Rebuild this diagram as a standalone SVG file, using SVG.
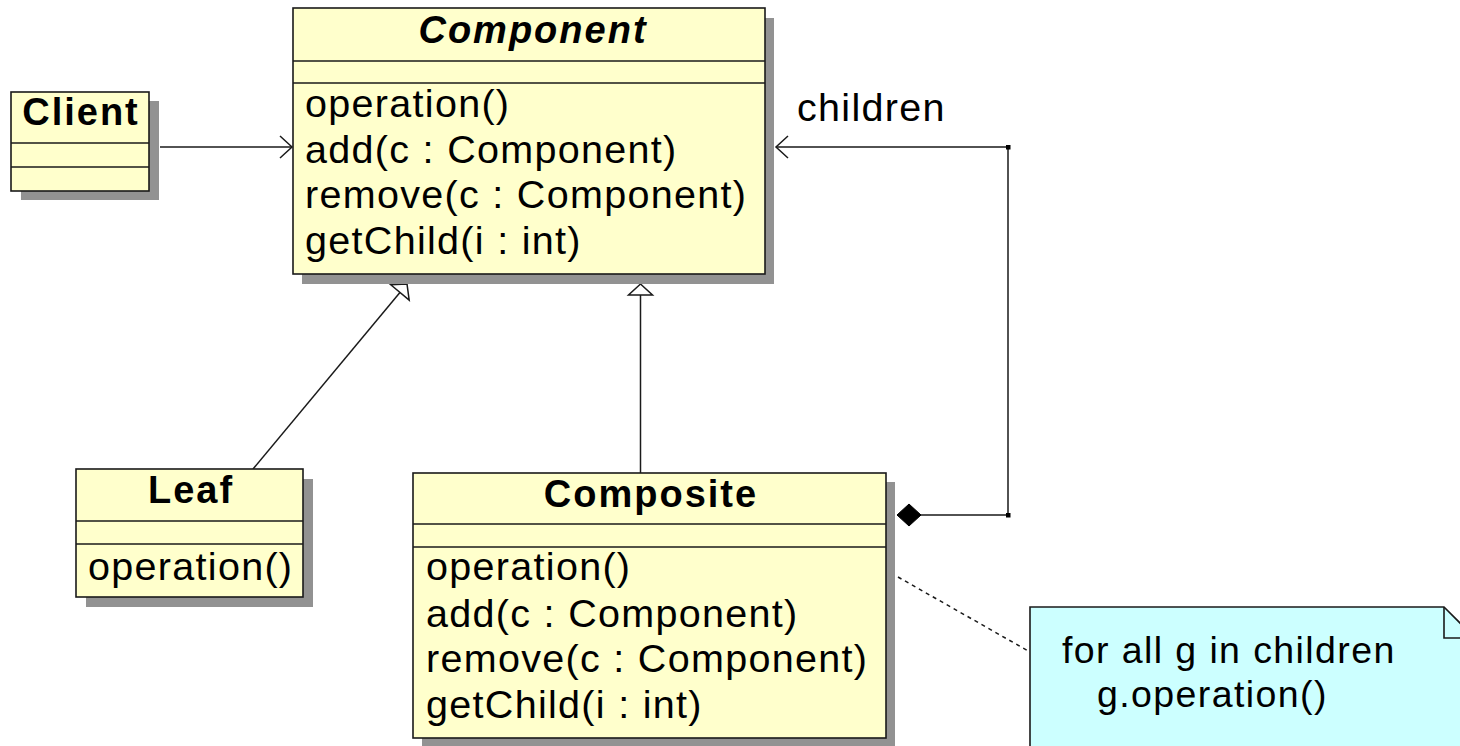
<svg xmlns="http://www.w3.org/2000/svg" width="1460" height="746" viewBox="0 0 1460 746">
<defs>
<style>
.box{fill:#ffffcc;stroke:#1a1a1a;stroke-width:1.6}
.shadow{fill:#929292}
.div{stroke:#1a1a1a;stroke-width:1.4}
.title{font-family:"Liberation Sans",Arial,sans-serif;font-weight:bold;font-size:38px;letter-spacing:2px;fill:#000;text-anchor:middle}
.ital{font-style:italic}
.op{font-family:"Liberation Sans",Arial,sans-serif;font-size:39.5px;letter-spacing:1.3px;fill:#000}
.nt{font-family:"Liberation Sans",Arial,sans-serif;font-size:37.5px;letter-spacing:1.4px;fill:#000}
.conn{fill:none;stroke:#1a1a1a;stroke-width:1.5}
.note{fill:#ccffff;stroke:#1a1a1a;stroke-width:1.6}
</style>
<marker id="open" markerUnits="userSpaceOnUse" viewBox="-14 -13 16 26" markerWidth="16" markerHeight="26" refX="0" refY="0" orient="auto" overflow="visible">
<path d="M-12,-11 L0,0 L-12,11" fill="none" stroke="#1a1a1a" stroke-width="1.5"/>
</marker>
<marker id="tri" markerUnits="userSpaceOnUse" viewBox="-13 -14 15 28" markerWidth="15" markerHeight="28" refX="0" refY="0" orient="auto" overflow="visible">
<path d="M0,0 L-11,-12 L-11,12 Z" fill="#fff" stroke="#1a1a1a" stroke-width="1.5"/>
</marker>
<marker id="diamond" markerUnits="userSpaceOnUse" viewBox="-2 -13 28 26" markerWidth="28" markerHeight="26" refX="0" refY="0" orient="auto" overflow="visible">
<path d="M0,0 L12,-11 L24,0 L12,11 Z" fill="#000" stroke="#000" stroke-width="1"/>
</marker>
</defs>
<rect width="1460" height="746" fill="#fff"/>

<g id="connectors">
<line class="conn" x1="160" y1="147" x2="292" y2="147" marker-end="url(#open)"/>
<line class="conn" x1="253" y1="469" x2="407" y2="284" marker-end="url(#tri)"/>
<line class="conn" x1="640.5" y1="473" x2="640.5" y2="284" marker-end="url(#tri)"/>
<polyline class="conn" points="897,515 1008,515 1008,147 776,147" marker-start="url(#diamond)" marker-end="url(#open)"/>
<rect x="1006" y="513" width="4.5" height="4.5" fill="#000"/>
<rect x="1006" y="145" width="4.5" height="4.5" fill="#000"/>
<text class="op" x="797" y="121">children</text>
<line class="conn" x1="898" y1="577" x2="1030" y2="652" stroke-width="1.2" stroke-dasharray="4,4"/>
</g>

<g id="client">
<rect class="shadow" x="21" y="101" width="138" height="99"/>
<rect class="box" x="11" y="92" width="138" height="99"/>
<line class="div" x1="11" y1="143" x2="149" y2="143"/>
<line class="div" x1="11" y1="167" x2="149" y2="167"/>
<text class="title" x="81" y="125">Client</text>
</g>

<g id="component">
<rect class="shadow" x="302" y="18" width="472" height="266"/>
<rect class="box" x="293" y="8" width="472" height="266"/>
<line class="div" x1="293" y1="61" x2="765" y2="61"/>
<line class="div" x1="293" y1="83" x2="765" y2="83"/>
<text class="title ital" x="533" y="43">Component</text>
<text class="op" x="305" y="117">operation()</text>
<text class="op" x="305" y="162.5">add(c : Component)</text>
<text class="op" x="305" y="208">remove(c : Component)</text>
<text class="op" x="305" y="253.5">getChild(i : int)</text>
</g>

<g id="leaf">
<rect class="shadow" x="86" y="479" width="227" height="128"/>
<rect class="box" x="76" y="469" width="227" height="128"/>
<line class="div" x1="76" y1="521" x2="303" y2="521"/>
<line class="div" x1="76" y1="544" x2="303" y2="544"/>
<text class="title" x="191" y="503">Leaf</text>
<text class="op" x="88" y="580">operation()</text>
</g>

<g id="composite">
<rect class="shadow" x="422" y="482" width="473" height="265"/>
<rect class="box" x="413" y="473" width="473" height="265"/>
<line class="div" x1="413" y1="524" x2="886" y2="524"/>
<line class="div" x1="413" y1="547" x2="886" y2="547"/>
<text class="title" x="651" y="507">Composite</text>
<text class="op" x="426" y="580">operation()</text>
<text class="op" x="426" y="626.5">add(c : Component)</text>
<text class="op" x="426" y="672">remove(c : Component)</text>
<text class="op" x="426" y="718">getChild(i : int)</text>
</g>

<g id="note">
<path class="note" d="M1030,607 L1444,607 L1475,638 L1475,760 L1030,760 Z"/>
<path d="M1444,607 L1444,638 L1475,638" fill="none" stroke="#1a1a1a" stroke-width="1.6"/>
<text class="nt" x="1062" y="663">for all g in children</text>
<text class="nt" x="1097" y="707">g.operation()</text>
</g>
</svg>
